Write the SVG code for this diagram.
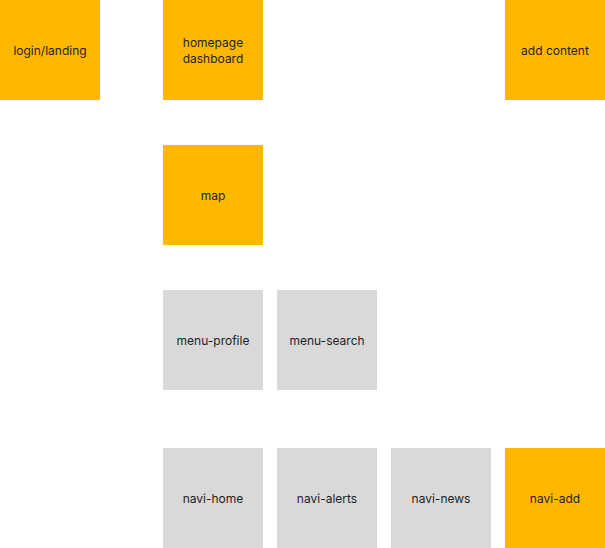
<svg xmlns="http://www.w3.org/2000/svg" width="605" height="548" viewBox="0 0 605 548">
<style>
.o{fill:#FFB800}
.g{fill:#D9D9D9}
text{font-family:Inter,"Liberation Sans",sans-serif;font-size:12px;fill:#1E1E1E;text-anchor:middle;dominant-baseline:central}
</style>
<rect width="605" height="548" fill="#fff"/>
<g id="connectors"></g>
<g id="login"><rect class="o" x="0" y="0" width="100" height="100"/><text x="50" y="50">login/landing</text></g>
<g id="homepage"><rect class="o" x="163" y="0" width="100" height="100"/><text x="213" y="42">homepage</text><text x="213" y="58">dashboard</text></g>
<g id="add-content"><rect class="o" x="505" y="0" width="100" height="100"/><text x="555" y="50">add content</text></g>
<g id="map"><rect class="o" x="163" y="145" width="100" height="100"/><text x="213" y="195">map</text></g>
<g id="menu-profile"><rect class="g" x="163" y="290" width="100" height="100"/><text x="213" y="340">menu-profile</text></g>
<g id="menu-search"><rect class="g" x="277" y="290" width="100" height="100"/><text x="327" y="340">menu-search</text></g>
<g id="navi-home"><rect class="g" x="163" y="448" width="100" height="100"/><text x="213" y="498">navi-home</text></g>
<g id="navi-alerts"><rect class="g" x="277" y="448" width="100" height="100"/><text x="327" y="498">navi-alerts</text></g>
<g id="navi-news"><rect class="g" x="391" y="448" width="100" height="100"/><text x="441" y="498">navi-news</text></g>
<g id="navi-add"><rect class="o" x="505" y="448" width="100" height="100"/><text x="555" y="498">navi-add</text></g>
</svg>
